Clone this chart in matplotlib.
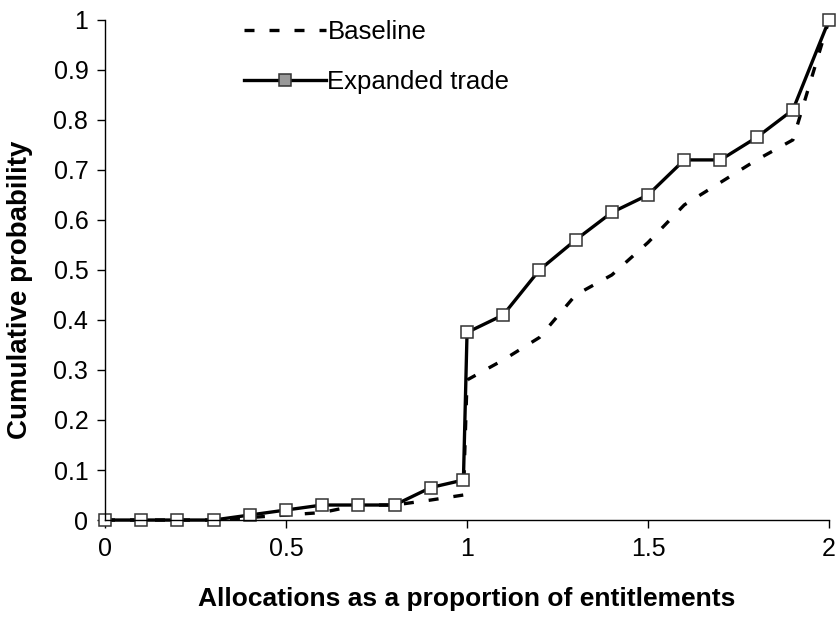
import matplotlib
matplotlib.use("Agg")
import matplotlib.pyplot as plt

plt.rcParams['font.family'] = ['Liberation Sans', 'DejaVu Sans']

# allocation / entitlement ratio
x = [0.0, 0.1, 0.2, 0.3, 0.4, 0.5, 0.6, 0.7, 0.8, 0.9, 0.99,
     1.0, 1.1, 1.2, 1.3, 1.4, 1.5, 1.6, 1.7, 1.8, 1.9, 2.0]
baseline = [0.0, 0.0, 0.0, 0.0, 0.005, 0.01, 0.015, 0.03, 0.03, 0.04, 0.05,
            0.28, 0.32, 0.365, 0.45, 0.49, 0.555, 0.63, 0.675, 0.72, 0.76, 1.0]
expanded = [0.0, 0.0, 0.0, 0.0, 0.01, 0.02, 0.03, 0.03, 0.03, 0.065, 0.08,
            0.375, 0.41, 0.50, 0.56, 0.615, 0.65, 0.72, 0.72, 0.765, 0.82, 1.0]

fig = plt.figure(figsize=(8.4, 6.21), dpi=100)
ax = fig.add_axes([0.125, 0.1626, 0.862, 0.8054])

ax.plot(x, baseline, color='black', lw=2.4, ls=(0, (3, 4.5)), label='Baseline')
ax.plot(x, expanded, color='black', lw=2.4, marker='s', markersize=8.5,
        markerfacecolor='white', markeredgecolor='#333333', markeredgewidth=1.1,
        label='Expanded trade')

ax.set_xlim(0, 2)
ax.set_ylim(0, 1)
ax.set_xticks([0, 0.5, 1, 1.5, 2])
ax.set_xticklabels(['0', '0.5', '1', '1.5', '2'])
ax.set_yticks([i / 10 for i in range(11)])
ax.set_yticklabels(['0', '0.1', '0.2', '0.3', '0.4', '0.5', '0.6', '0.7', '0.8', '0.9', '1'])
ax.tick_params(direction='out', length=6, width=1, labelsize=18, pad=6)
for s in ['top', 'right']:
    ax.spines[s].set_visible(False)
for s in ['left', 'bottom']:
    ax.spines[s].set_linewidth(1)
for t in ax.get_lines():
    t.set_clip_on(False)

ax.set_xlabel('Allocations as a proportion of entitlements', fontsize=19,
              fontweight='bold', labelpad=19)
ax.set_ylabel('Cumulative probability', fontsize=20, fontweight='bold', labelpad=10)
ax.yaxis.set_label_coords(-0.1, 0.46)

leg = ax.legend(loc='upper left', bbox_to_anchor=(0.16, 1.045), frameon=False,
                fontsize=18.5, handlelength=3.2, handletextpad=0.05, labelspacing=1.0)
leg.get_lines()[1].set_markerfacecolor('#999999')

fig.savefig('out.png', dpi=100)
